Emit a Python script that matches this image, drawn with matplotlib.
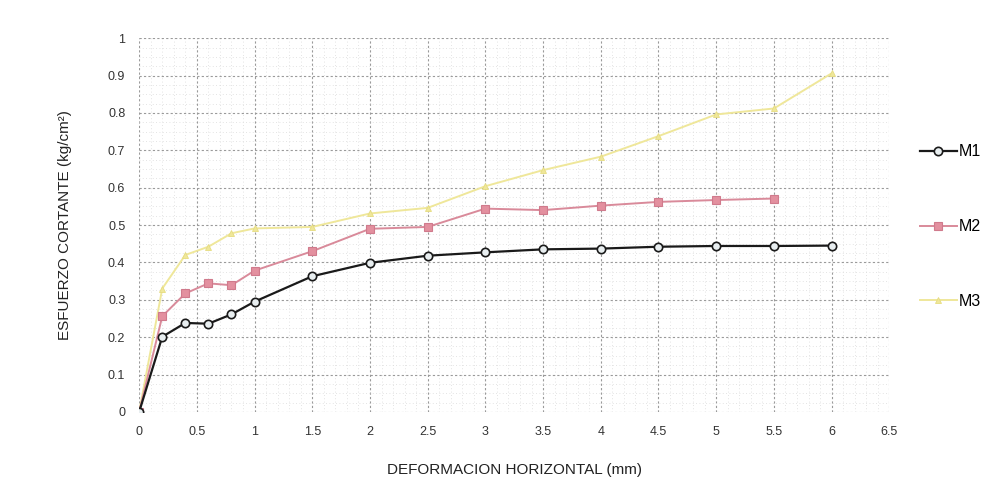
import matplotlib
matplotlib.use("Agg")
import matplotlib.pyplot as plt
from matplotlib.ticker import MultipleLocator

plt.rcParams['font.family'] = ['Liberation Sans', 'DejaVu Sans']

x_m1 = [0, 0.2, 0.4, 0.6, 0.8, 1, 1.5, 2, 2.5, 3, 3.5, 4, 4.5, 5, 5.5, 6]
y_m1 = [0, 0.201, 0.238, 0.236, 0.261, 0.295, 0.363, 0.399, 0.418, 0.427,
        0.435, 0.437, 0.442, 0.444, 0.444, 0.445]

x_m2 = [0, 0.2, 0.4, 0.6, 0.8, 1, 1.5, 2, 2.5, 3, 3.5, 4, 4.5, 5, 5.5]
y_m2 = [0, 0.256, 0.317, 0.344, 0.339, 0.378, 0.43, 0.49, 0.495, 0.544,
        0.54, 0.552, 0.562, 0.567, 0.571]

x_m3 = [0, 0.2, 0.4, 0.6, 0.8, 1, 1.5, 2, 2.5, 3, 3.5, 4, 4.5, 5, 5.5, 6]
y_m3 = [0, 0.33, 0.42, 0.442, 0.478, 0.491, 0.495, 0.531, 0.546, 0.604,
        0.647, 0.683, 0.738, 0.796, 0.812, 0.906]

x_ticks = [0, 0.5, 1, 1.5, 2, 2.5, 3, 3.5, 4, 4.5, 5, 5.5, 6, 6.5]
x_ticklabels = ["0", "0.5", "1", "1.5", "2", "2.5", "3", "3.5", "4", "4.5",
                "5", "5.5", "6", "6.5"]
y_ticks = [0, 0.1, 0.2, 0.3, 0.4, 0.5, 0.6, 0.7, 0.8, 0.9, 1]
y_ticklabels = ["0", "0.1", "0.2", "0.3", "0.4", "0.5", "0.6", "0.7", "0.8",
                "0.9", "1"]

fig = plt.figure(figsize=(9.87, 4.84), dpi=100)
ax = fig.add_axes([0.141, 0.149, 0.760, 0.772])

ax.plot(x_m1, y_m1, color='#1a1a1a', lw=1.6, marker='o', ms=6,
        mfc='#e8eef0', mec='#1a1a1a', mew=1.2, label='M1', zorder=4)
ax.plot(x_m2, y_m2, color='#d98a9a', lw=1.4, marker='s', ms=6,
        mfc='#e3909f', mec='#d07a8c', mew=0.8, label='M2', zorder=3)
ax.plot(x_m3, y_m3, color='#efe79a', lw=1.4, marker='^', ms=5,
        mfc='#efe79a', mec='#e6dc80', mew=0.6, label='M3', zorder=2)

ax.set_xlim(0, 6.5)
ax.set_ylim(0, 1)
ax.set_xticks(x_ticks)
ax.set_xticklabels(x_ticklabels)
ax.set_yticks(y_ticks)
ax.set_yticklabels(y_ticklabels)
ax.xaxis.set_minor_locator(MultipleLocator(0.1))
ax.yaxis.set_minor_locator(MultipleLocator(0.025))

ax.grid(which='major', color='#9a9a9a', ls=(0, (2, 2)), lw=0.8)
ax.grid(which='minor', color='#dadada', ls=(0, (1, 3)), lw=0.6)
ax.set_axisbelow(True)

for s in ax.spines.values():
    s.set_visible(False)
ax.tick_params(which='both', length=0, labelsize=9, colors='#333333', pad=10)

ax.set_xlabel("DEFORMACION HORIZONTAL (mm)", fontsize=11, labelpad=18,
              color='#222222')
ax.set_ylabel("ESFUERZO CORTANTE (kg/cm²)", fontsize=11, labelpad=26,
              color='#222222')

fig.legend(loc='upper left', bbox_to_anchor=(0.932, 0.702), frameon=False,
           fontsize=11.5, labelspacing=3.75, handlelength=2.3,
           handletextpad=0.15, borderaxespad=0, borderpad=0)

fig.savefig("out.png", dpi=100, facecolor='white')
